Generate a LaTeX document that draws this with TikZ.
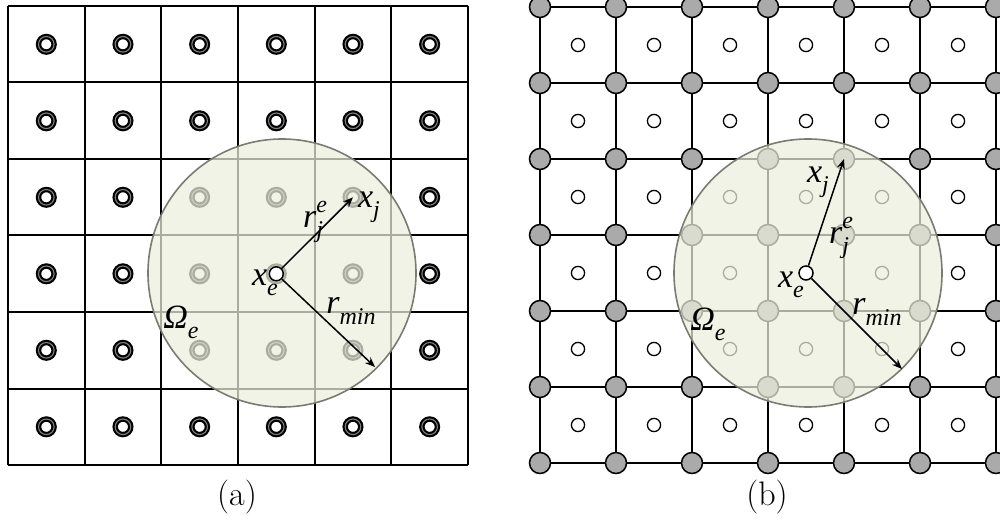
\documentclass[tikz,border=0pt]{standalone}
\usepackage{fontspec}
\newfontfamily\labelfont{Liberation Serif}
\usetikzlibrary{arrows.meta}

\definecolor{zonefill}{RGB}{236,239,222}
\definecolor{zoneedge}{RGB}{122,124,114}
\definecolor{vertexgray}{RGB}{170,170,170}

\newcommand{\lowidx}[1]{\raisebox{-0.3em}{\fontsize{12}{14}\selectfont #1}}
\newcommand{\upidx}[1]{\raisebox{0.45em}{\fontsize{12}{14}\selectfont #1}}

\tikzset{every picture/.style={line width=0.75pt}}
\tikzset{
  meshline/.style={draw=black, line width=1pt},
  ringouter/.style={draw=black, line width=2.7pt},
  ringinner/.style={draw=gray, line width=0.55pt},
  vertexdot/.style={draw=black, fill=vertexgray, line width=0.75pt},
  centredot/.style={draw=black, fill=white, line width=0.65pt},
  zone/.style={draw=zoneedge, line width=0.8pt, fill=zonefill, fill opacity=0.72},
  elemnode/.style={circle, draw=black, fill=white, line width=0.75pt, inner sep=0pt, minimum size=7pt},
  radiusarrow/.style={-{Stealth[length=5pt,width=4pt]}, line width=0.75pt},
  mathlabel/.style={inner sep=0.75pt, font=\labelfont\itshape\fontsize{17}{19}\selectfont},
  caption/.style={inner sep=0.75pt, font=\fontsize{17}{20}\selectfont},
}

\begin{document}
\begin{tikzpicture}[x=0.5pt,y=0.5pt,yscale=-1,xscale=1]
\useasboundingbox (0,0) rectangle (1000,523);
\clip (0,0) rectangle (1000,523);

%Mesh (a)
\foreach \i in {0,...,6} {
  \draw [meshline] ({8+76.67*\i},6) -- ({8+76.67*\i},465) ;
  \draw [meshline] (8,{6+76.5*\i}) -- (468,{6+76.5*\i}) ;
}
%Element rings (a)
\foreach \i in {0,...,5} {
  \foreach \j in {0,...,5} {
    \draw [ringouter] ({46.3+76.67*\i},{44.3+76.5*\j}) circle (7.8) ;
    \draw [ringinner] ({46.3+76.67*\i},{44.3+76.5*\j}) circle (7.8) ;
  }
}
%Filter zone (a)
\draw [zone] (282,273) circle (134) ;

\node [elemnode] (xeA) at (276.3,273.8) {} ;
\coordinate (xjA) at (353,197.3) ;
\coordinate (rminA) at (375,367) ;
\draw [radiusarrow] (xeA) -- (xjA) ;
\draw [radiusarrow] (xeA) -- (rminA) ;

% Text Node
\node [mathlabel] (rjeA) at (313,222) {r\rlap{\upidx{e}}\lowidx{j}} ;
% Text Node
\node [mathlabel] (lxjA) at (369,207) {x\lowidx{j}} ;
% Text Node
\node [mathlabel] (lxeA) at (265,283) {x\lowidx{e}} ;
% Text Node
\node [mathlabel] (lrminA) at (351,311) {r\lowidx{min}} ;
% Text Node
\node [mathlabel] (omegaA) at (181,322) {Ω\lowidx{e}} ;
% Text Node
\node [caption] (capA) at (237,497) {(a)} ;

%Mesh (b)
\foreach \i in {0,...,6} {
  \draw [meshline] ({540+76*\i},7) -- ({540+76*\i},463) ;
  \draw [meshline] (540,{7+76*\i}) -- (996,{7+76*\i}) ;
}
%Nodal points (b)
\foreach \i in {0,...,6} {
  \foreach \j in {0,...,6} {
    \draw [vertexdot] ({540+76*\i},{7+76*\j}) circle (10.5) ;
  }
}
%Element centres (b)
\foreach \i in {0,...,5} {
  \foreach \j in {0,...,5} {
    \draw [centredot] ({578+76*\i},{45+76*\j}) circle (6.6) ;
  }
}
%Filter zone (b)
\draw [zone] (808,273) circle (134) ;

\node [elemnode] (xeB) at (806,273) {} ;
\coordinate (xjB) at (844,159) ;
\coordinate (rminB) at (902,369) ;
\draw [radiusarrow] (xeB) -- (xjB) ;
\draw [radiusarrow] (xeB) -- (rminB) ;

% Text Node
\node [mathlabel] (lxjB) at (818,182) {x\lowidx{j}} ;
% Text Node
\node [mathlabel] (rjeB) at (839,238) {r\rlap{\upidx{e}}\lowidx{j}} ;
% Text Node
\node [mathlabel] (lxeB) at (791,285) {x\lowidx{e}} ;
% Text Node
\node [mathlabel] (lrminB) at (877,312) {r\lowidx{min}} ;
% Text Node
\node [mathlabel] (omegaB) at (708,324) {Ω\lowidx{e}} ;
% Text Node
\node [caption] (capB) at (767,497) {(b)} ;

\end{tikzpicture}
\end{document}
